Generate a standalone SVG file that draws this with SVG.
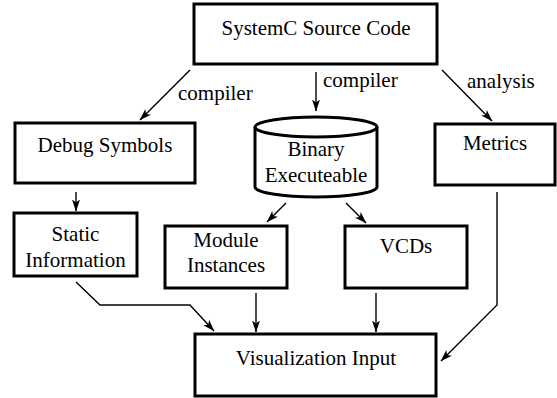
<svg xmlns="http://www.w3.org/2000/svg" width="557" height="398" viewBox="0 0 557 398" font-family="Liberation Serif, Times New Roman, serif" font-size="21">
<style>
.box{fill:#fff;stroke:#000;stroke-width:3}
.t{text-anchor:middle}
.c{fill:none;stroke:#000;stroke-width:1.4;marker-end:url(#ah)}
</style>
<defs>
<marker id="ah" viewBox="0 0 12 10" refX="11.5" refY="5" markerWidth="12" markerHeight="10" markerUnits="userSpaceOnUse" orient="auto">
<path d="M0,1 L12,5 L0,9 L3,5 Z" fill="#000"/>
</marker>
</defs>
<rect width="557" height="398" fill="#fff"/>
<g id="connectors">
<line class="c" x1="190" y1="70" x2="140" y2="120"/>
<line class="c" x1="316" y1="72" x2="316" y2="111"/>
<line class="c" x1="442" y1="70" x2="492" y2="121"/>
<line class="c" x1="76" y1="192" x2="76" y2="211"/>
<line class="c" x1="286" y1="203" x2="267" y2="222"/>
<line class="c" x1="346" y1="203" x2="366" y2="223"/>
<polyline class="c" points="76,282 100,305 190,305 214,331"/>
<line class="c" x1="256" y1="293" x2="256" y2="332"/>
<line class="c" x1="376" y1="293" x2="376" y2="332"/>
<polyline class="c" points="497,192 497,305 441,361"/>
<text x="178" y="100">compiler</text>
<text x="323" y="87">compiler</text>
<text x="467" y="88">analysis</text>
</g>
<g id="source">
<rect class="box" x="194" y="4" width="243" height="60"/>
<text class="t" x="316" y="35">SystemC Source Code</text>
</g>
<g id="debug">
<rect class="box" x="15" y="123" width="180" height="60"/>
<text class="t" x="105" y="152">Debug Symbols</text>
</g>
<g id="binary">
<path class="box" d="M255,127 L255,187 A61,10 0 0 0 377,187 L377,127 A61,10 0 0 0 255,127 Z"/>
<path d="M255,127 A61,10 0 0 0 377,127" fill="none" stroke="#000" stroke-width="3"/>
<text class="t" x="316" y="156">Binary</text>
<text class="t" x="316" y="182">Executeable</text>
</g>
<g id="metrics">
<rect class="box" x="435" y="124" width="120" height="61"/>
<text class="t" x="495" y="150">Metrics</text>
</g>
<g id="static">
<rect class="box" x="14" y="213" width="123" height="63"/>
<text class="t" x="75.5" y="241">Static</text>
<text class="t" x="75.5" y="267">Information</text>
</g>
<g id="module">
<rect class="box" x="165" y="226" width="122" height="62"/>
<text class="t" x="226" y="247">Module</text>
<text class="t" x="226" y="272">Instances</text>
</g>
<g id="vcds">
<rect class="box" x="345" y="226" width="122" height="62"/>
<text class="t" x="406" y="253">VCDs</text>
</g>
<g id="vis">
<rect class="box" x="195" y="334" width="241" height="62"/>
<text class="t" x="316" y="365">Visualization Input</text>
</g>
</svg>
